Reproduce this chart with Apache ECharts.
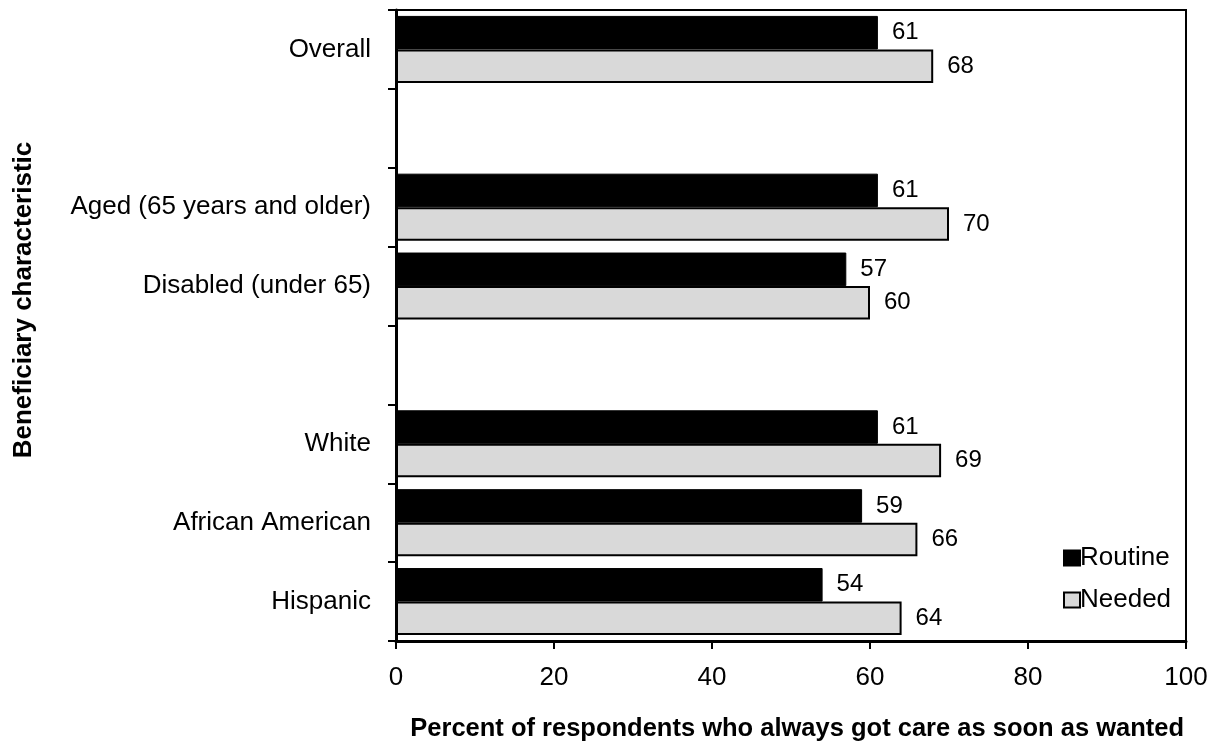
<!DOCTYPE html>
<html>
<head>
<meta charset="utf-8">
<script src="https://cdn.jsdelivr.net/npm/echarts@6/dist/echarts.min.js"></script>
<style>
  html, body { margin: 0; padding: 0; background: #fff; }
  #chart { width: 1217px; height: 746px; }
</style>
</head>
<body>
<div id="chart"></div>
<script>
// Category rows, top to bottom; empty strings are spacer rows between groups
const categories = ['Overall', '', 'Aged (65 years and older)', 'Disabled (under 65)', '', 'White', 'African American', 'Hispanic'];
const routine = [61, null, 61, 57, null, 61, 59, 54];
const needed = [68, null, 70, 60, null, 69, 66, 64];
const xTicks = { min: 0, max: 100, interval: 20 };
const xTitle = 'Percent of respondents who always got care as soon as wanted';
const yTitle = 'Beneficiary characteristic';

const FONT = '"Liberation Sans", Arial, sans-serif';
const FS = 26;

const chart = echarts.init(document.getElementById('chart'));
chart.setOption({
  animation: false,
  backgroundColor: '#fff',
  textStyle: { fontFamily: FONT, color: '#000' },
  grid: {
    left: 396, right: 31, top: 10, bottom: 105,
    containLabel: false,
    outerBoundsMode: 'none',
    show: true, borderColor: '#000', borderWidth: 2, backgroundColor: 'transparent'
  },
  legend: {
    orient: 'vertical',
    left: 1058, top: 540,
    icon: 'rect',
    itemWidth: 16, itemHeight: 15, itemGap: 16,
    textStyle: { fontFamily: FONT, fontSize: FS, color: '#000', padding: [0, 0, 0, -5] },
    data: ['Routine', 'Needed']
  },
  xAxis: {
    type: 'value',
    min: xTicks.min, max: xTicks.max, interval: xTicks.interval,
    axisLine: { show: true, lineStyle: { color: '#000', width: 3 } },
    axisTick: { show: true, length: 8, lineStyle: { color: '#000', width: 2 } },
    axisLabel: { fontFamily: FONT, fontSize: FS, color: '#000', margin: 24 },
    splitLine: { show: false }
  },
  yAxis: {
    type: 'category',
    data: categories,
    inverse: true,
    axisLine: { show: true, lineStyle: { color: '#000', width: 3 } },
    axisTick: { show: true, length: 8, lineStyle: { color: '#000', width: 2 } },
    axisLabel: { fontFamily: FONT, fontSize: FS, color: '#000', margin: 25 },
    splitLine: { show: false }
  },
  graphic: [
    {
      type: 'text',
      right: 33, top: 716,
      style: { text: xTitle, font: 'bold 25.5px ' + FONT, fill: '#000' }
    },
    {
      type: 'text',
      x: 24, y: 300,
      rotation: Math.PI / 2,
      style: {
        text: yTitle, font: 'bold ' + FS + 'px ' + FONT, fill: '#000',
        align: 'center', verticalAlign: 'middle'
      }
    }
  ],
  series: [
    {
      name: 'Routine',
      type: 'bar',
      data: routine,
      barGap: '0%',
      barCategoryGap: '15%',
      itemStyle: { color: '#000', borderColor: '#000', borderWidth: 1 },
      label: { show: true, position: 'right', distance: 14, fontFamily: FONT, fontSize: 24, color: '#000' }
    },
    {
      name: 'Needed',
      type: 'bar',
      data: needed,
      itemStyle: { color: '#d9d9d9', borderColor: '#000', borderWidth: 2 },
      label: { show: true, position: 'right', distance: 14, fontFamily: FONT, fontSize: 24, color: '#000' }
    }
  ]
});
</script>
</body>
</html>
